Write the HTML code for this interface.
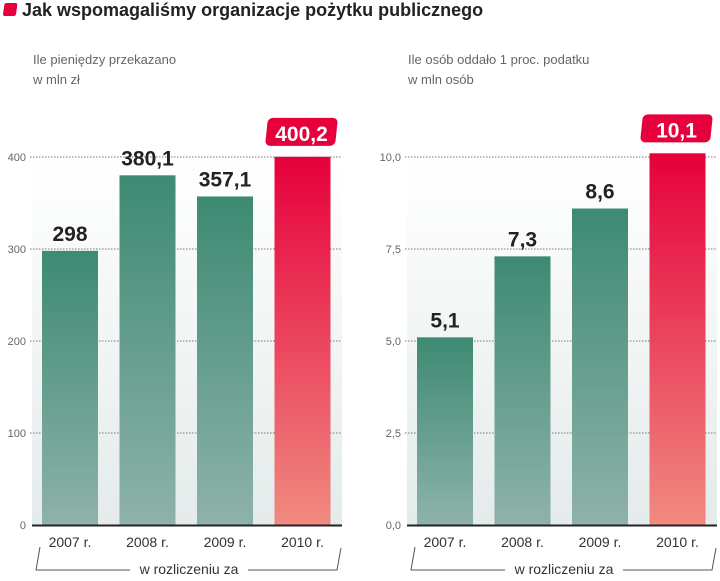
<!DOCTYPE html>
<html><head><meta charset="utf-8"><style>
body{margin:0;width:720px;height:576px;background:#fff;font-family:"Liberation Sans",sans-serif;overflow:hidden}
svg text{font-family:"Liberation Sans",sans-serif}
</style></head><body>
<svg width="720" height="576">
<defs>
<linearGradient id="bg" x1="0" y1="0" x2="0" y2="1"><stop offset="0" stop-color="#fff"/><stop offset="1" stop-color="#e4ebea"/></linearGradient>
<linearGradient id="gr" x1="0" y1="0" x2="0" y2="1"><stop offset="0" stop-color="#3d8a72"/><stop offset="1" stop-color="#8eb2ab"/></linearGradient>
<linearGradient id="rd" x1="0" y1="0" x2="0" y2="1"><stop offset="0" stop-color="#e6003c"/><stop offset="1" stop-color="#f08a80"/></linearGradient>
</defs>
<rect x="4" y="3" width="13" height="13" rx="2" fill="#e6003c" transform="skewX(-8) translate(1,0)"/>
<text x="22" y="16" font-size="18" font-weight="bold" fill="#222">Jak wspomagaliśmy organizacje pożytku publicznego</text>
<g id="charts"></g>
</svg>
<script>
const categories=["2007 r.","2008 r.","2009 r.","2010 r."];
const moneyValues=[298,380.1,357.1,400.2];
const moneyLabels=["298","380,1","357,1","400,2"];
const moneyTicks=[0,100,200,300,400];
const moneyTickLabels=["0","100","200","300","400"];
const peopleValues=[5.1,7.3,8.6,10.1];
const peopleLabels=["5,1","7,3","8,6","10,1"];
const peopleTicks=[0,2.5,5,7.5,10];
const peopleTickLabels=["0,0","2,5","5,0","7,5","10,0"];
const NS="http://www.w3.org/2000/svg";
const root=document.getElementById('charts');
function mk(tag,attrs,parent){const e=document.createElementNS(NS,tag);for(const k in attrs)e.setAttribute(k,attrs[k]);(parent||root).appendChild(e);return e;}
function draw(ox,max,vals,labels,ticks,tickLabels,sub1,sub2,pre){
  const base=525,top=157;
  const y=v=>base-(v/max)*(base-top);
  const x0=ox+42, step=77.5, bw=56;
  const g=mk('g',{});
  
  
  const bg=mk('rect',{x:ox+32,y:top,width:310,height:base-top,fill:'url(#bg)'},g);
  
  
  const s1=mk('text',{x:ox+33,y:64,'font-size':13,fill:'#666'},g);s1.textContent=sub1;
  
  
  const s2=mk('text',{x:ox+33,y:84,'font-size':13,fill:'#666'},g);s2.textContent=sub2;
  
  
  ticks.forEach((t,i)=>{
    const ty=y(t);
    if(t>0){const l=mk('line',{x1:ox+30,x2:ox+342,y1:ty,y2:ty,stroke:'#777','stroke-dasharray':'1.5,1.5','stroke-width':1},g);
      
      }
    const tl=mk('text',{x:ox+26,y:ty+4,'font-size':11,fill:'#666','text-anchor':'end'},g);tl.textContent=tickLabels[i];
    
    
  });
  vals.forEach((v,i)=>{
    const bx=x0+i*step, by=y(v), last=i===vals.length-1;
    const r=mk('rect',{x:bx,y:by,width:bw,height:base-by,fill:last?'url(#rd)':'url(#gr)'},g);
    
    
    if(last){
      const b=mk('rect',{x:bx-8,y:by-39,width:70,height:28,rx:5,fill:'#e6003c',transform:`skewX(-6) translate(${(by-25)*0.105},0)`},g);
      
      
    }
    const t=mk('text',{x:bx+bw/2+(last?-1:0),y:by-(last?16:10),'font-size':21,'font-weight':'bold',fill:last?'#fff':'#222','text-anchor':'middle'},g);
    t.textContent=labels[i];
    
    
    const c=mk('text',{x:bx+bw/2,y:547,'font-size':14,fill:'#333','text-anchor':'middle'},g);c.textContent=categories[i];
    
    
  });
  const ax=mk('line',{x1:ox+32,x2:ox+342,y1:base+0.5,y2:base+0.5,stroke:'#222','stroke-width':2},g);
  
  
  const br=mk('path',{d:`M${ox+40} 547 L${ox+36} 570 L${ox+130} 570 M${ox+248} 570 L${ox+337} 570 L${ox+341} 548`,fill:'none',stroke:'#555','stroke-width':1},g);
  
  
  const bt=mk('text',{x:ox+189,y:574,'font-size':14,fill:'#333','text-anchor':'middle'},g);bt.textContent='w rozliczeniu za';
  
  
}
draw(0,400,moneyValues,moneyLabels,moneyTicks,moneyTickLabels,'Ile pieniędzy przekazano','w mln zł','money');
draw(375,10,peopleValues,peopleLabels,peopleTicks,peopleTickLabels,'Ile osób oddało 1 proc. podatku','w mln osób','people');
</script>
</body></html>
